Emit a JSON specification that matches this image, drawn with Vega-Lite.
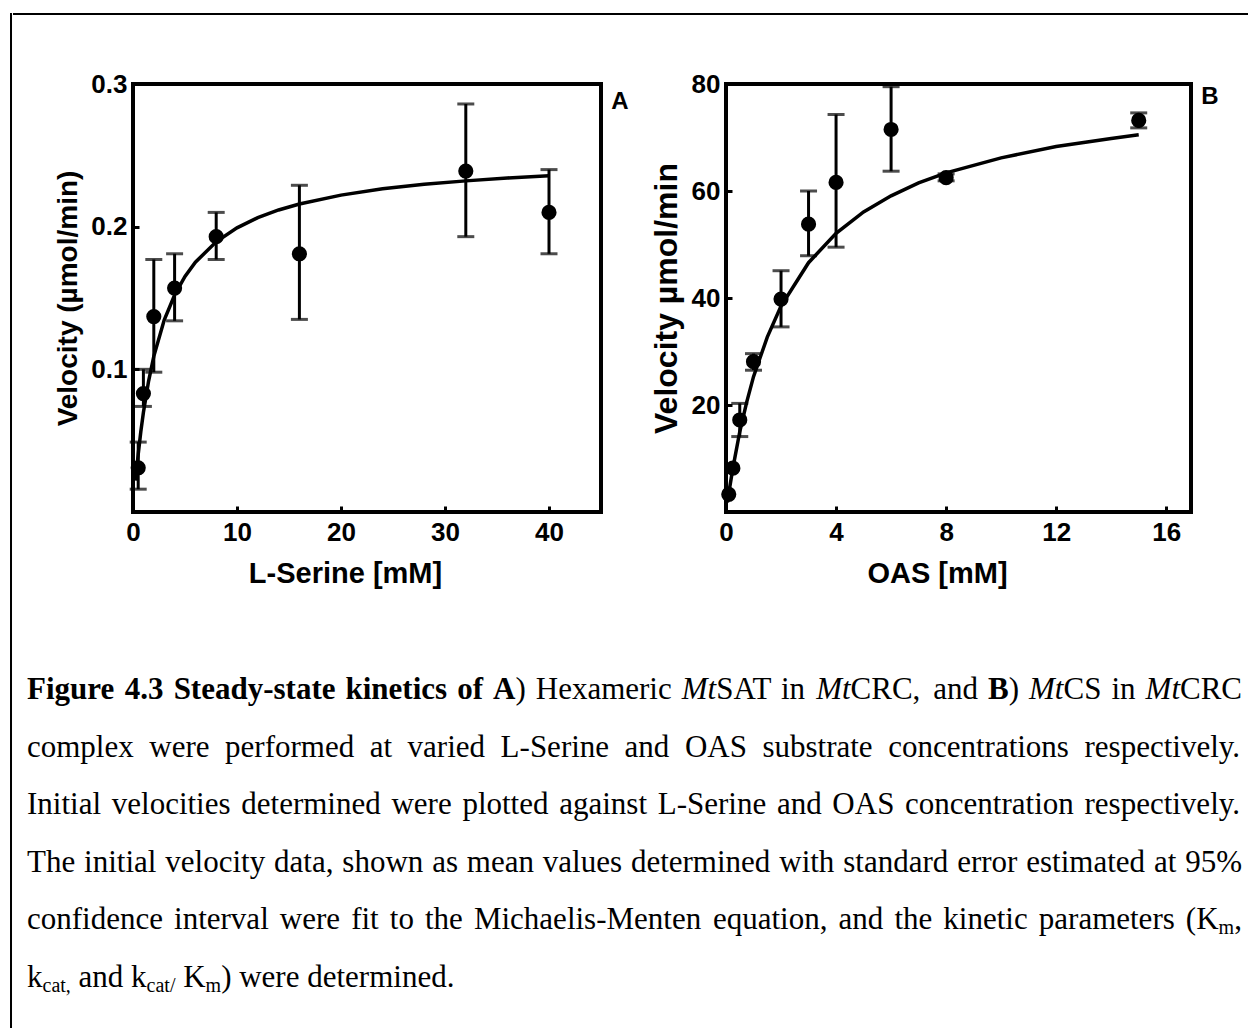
{
  "$schema": "https://vega.github.io/schema/vega-lite/v6.json",
  "padding": {"left": 10, "top": 13, "right": 0, "bottom": 0},
  "background": "white",
  "config": {
    "view": {"stroke": null},
    "font": "Liberation Sans",
    "axis": {
      "labelFont": "Liberation Sans", "titleFont": "Liberation Sans",
      "labelColor": "black", "titleColor": "black", "tickColor": "black",
      "domain": false, "grid": false,
      "labelFontWeight": "bold", "titleFontWeight": "bold",
      "labelFontSize": 26, "titleFontSize": 28, "tickWidth": 3,
      "labelFlush": false, "labelOverlap": false
    }
  },
  "datasets": {
    "serine_obs": [
      {"conc": 0.5, "v": 0.031, "lo": 0.016, "hi": 0.049},
      {"conc": 1, "v": 0.083, "lo": 0.074, "hi": 0.1},
      {"conc": 2, "v": 0.137, "lo": 0.098, "hi": 0.177},
      {"conc": 4, "v": 0.157, "lo": 0.134, "hi": 0.181},
      {"conc": 8, "v": 0.193, "lo": 0.177, "hi": 0.21},
      {"conc": 16, "v": 0.181, "lo": 0.135, "hi": 0.229},
      {"conc": 32, "v": 0.239, "lo": 0.193, "hi": 0.286},
      {"conc": 40, "v": 0.21, "lo": 0.181, "hi": 0.24}
    ],
    "serine_fit": [
      {"conc": 0.25, "v": 0.022}, {"conc": 0.5, "v": 0.0405}, {"conc": 0.75, "v": 0.0562},
      {"conc": 1, "v": 0.0697}, {"conc": 1.5, "v": 0.0918}, {"conc": 2, "v": 0.1091},
      {"conc": 3, "v": 0.1345}, {"conc": 4, "v": 0.1521}, {"conc": 5, "v": 0.1651},
      {"conc": 6, "v": 0.1751}, {"conc": 8, "v": 0.1894}, {"conc": 10, "v": 0.1992},
      {"conc": 12, "v": 0.2063}, {"conc": 14, "v": 0.2117}, {"conc": 16, "v": 0.2159},
      {"conc": 20, "v": 0.2221}, {"conc": 24, "v": 0.2265}, {"conc": 28, "v": 0.2297},
      {"conc": 32, "v": 0.2321}, {"conc": 36, "v": 0.2341}, {"conc": 40, "v": 0.2357}
    ],
    "oas_obs": [
      {"conc": 0.1, "v": 3.3, "lo": null, "hi": null},
      {"conc": 0.25, "v": 8.2, "lo": null, "hi": null},
      {"conc": 0.5, "v": 17.2, "lo": 14.1, "hi": 20.3},
      {"conc": 1, "v": 28.1, "lo": 26.5, "hi": 29.6},
      {"conc": 2, "v": 39.8, "lo": 34.6, "hi": 45.1},
      {"conc": 3, "v": 53.8, "lo": 47.9, "hi": 60.0},
      {"conc": 4, "v": 61.6, "lo": 49.5, "hi": 74.3},
      {"conc": 6, "v": 71.5, "lo": 63.7, "hi": 79.5},
      {"conc": 8, "v": 62.5, "lo": 61.9, "hi": 63.2},
      {"conc": 15, "v": 73.2, "lo": 71.8, "hi": 74.6}
    ],
    "oas_fit": [
      {"conc": 0.05, "v": 1.8}, {"conc": 0.1, "v": 3.5}, {"conc": 0.25, "v": 8.2},
      {"conc": 0.5, "v": 15.0}, {"conc": 0.75, "v": 20.5}, {"conc": 1, "v": 25.3},
      {"conc": 1.5, "v": 32.7}, {"conc": 2, "v": 38.5}, {"conc": 3, "v": 46.6},
      {"conc": 4, "v": 52.1}, {"conc": 5, "v": 56.1}, {"conc": 6, "v": 59.1},
      {"conc": 7, "v": 61.5}, {"conc": 8, "v": 63.4}, {"conc": 10, "v": 66.2},
      {"conc": 12, "v": 68.3}, {"conc": 14, "v": 69.8}, {"conc": 15, "v": 70.5}
    ],
    "caption": [
      {"line": 1, "pos": 0, "text": "Figure", "style": "bold"},
      {"line": 1, "pos": 0.08053, "text": "4.3", "style": "bold"},
      {"line": 1, "pos": 0.12068, "text": "Steady-state", "style": "bold"},
      {"line": 1, "pos": 0.26215, "text": "kinetics", "style": "bold"},
      {"line": 1, "pos": 0.35404, "text": "of", "style": "bold"},
      {"line": 1, "pos": 0.38355, "text": "A", "style": "bold"},
      {"line": 1, "pos": 0.40197, "text": ")", "style": "normal"},
      {"line": 1, "pos": 0.41872, "text": "Hexameric", "style": "normal"},
      {"line": 1, "pos": 0.53891, "text": "Mt", "style": "italic"},
      {"line": 1, "pos": 0.56726, "text": "SAT", "style": "normal"},
      {"line": 1, "pos": 0.6205, "text": "in", "style": "normal"},
      {"line": 1, "pos": 0.6495, "text": "Mt", "style": "italic"},
      {"line": 1, "pos": 0.67784, "text": "CRC,", "style": "normal"},
      {"line": 1, "pos": 0.74585, "text": "and", "style": "normal"},
      {"line": 1, "pos": 0.79095, "text": "B", "style": "bold"},
      {"line": 1, "pos": 0.80797, "text": ")", "style": "normal"},
      {"line": 1, "pos": 0.82472, "text": "Mt", "style": "italic"},
      {"line": 1, "pos": 0.85306, "text": "CS", "style": "normal"},
      {"line": 1, "pos": 0.89252, "text": "in", "style": "normal"},
      {"line": 1, "pos": 0.92063, "text": "Mt", "style": "italic"},
      {"line": 1, "pos": 0.94897, "text": "CRC", "style": "normal"},
      {"line": 2, "pos": 0, "text": "complex", "style": "normal"},
      {"line": 2, "pos": 0.10065, "text": "were", "style": "normal"},
      {"line": 2, "pos": 0.163, "text": "performed", "style": "normal"},
      {"line": 2, "pos": 0.28206, "text": "at", "style": "normal"},
      {"line": 2, "pos": 0.31326, "text": "varied", "style": "normal"},
      {"line": 2, "pos": 0.38981, "text": "L-Serine", "style": "normal"},
      {"line": 2, "pos": 0.49186, "text": "and", "style": "normal"},
      {"line": 2, "pos": 0.54148, "text": "OAS", "style": "normal"},
      {"line": 2, "pos": 0.60529, "text": "substrate", "style": "normal"},
      {"line": 2, "pos": 0.70878, "text": "concentrations", "style": "normal"},
      {"line": 2, "pos": 0.87036, "text": "respectively.", "style": "normal"},
      {"line": 3, "pos": 0, "text": "Initial", "style": "normal"},
      {"line": 3, "pos": 0.06976, "text": "velocities", "style": "normal"},
      {"line": 3, "pos": 0.17636, "text": "determined", "style": "normal"},
      {"line": 3, "pos": 0.29996, "text": "were", "style": "normal"},
      {"line": 3, "pos": 0.35834, "text": "plotted", "style": "normal"},
      {"line": 3, "pos": 0.43802, "text": "against", "style": "normal"},
      {"line": 3, "pos": 0.51911, "text": "L-Serine", "style": "normal"},
      {"line": 3, "pos": 0.61719, "text": "and", "style": "normal"},
      {"line": 3, "pos": 0.66284, "text": "OAS", "style": "normal"},
      {"line": 3, "pos": 0.72268, "text": "concentration", "style": "normal"},
      {"line": 3, "pos": 0.87035, "text": "respectively.", "style": "normal"},
      {"line": 4, "pos": 0, "text": "The", "style": "normal"},
      {"line": 4, "pos": 0.04698, "text": "initial", "style": "normal"},
      {"line": 4, "pos": 0.11383, "text": "velocity", "style": "normal"},
      {"line": 4, "pos": 0.20333, "text": "data,", "style": "normal"},
      {"line": 4, "pos": 0.25952, "text": "shown", "style": "normal"},
      {"line": 4, "pos": 0.33344, "text": "as", "style": "normal"},
      {"line": 4, "pos": 0.36199, "text": "mean", "style": "normal"},
      {"line": 4, "pos": 0.42456, "text": "values", "style": "normal"},
      {"line": 4, "pos": 0.49705, "text": "determined", "style": "normal"},
      {"line": 4, "pos": 0.61914, "text": "with", "style": "normal"},
      {"line": 4, "pos": 0.67181, "text": "standard", "style": "normal"},
      {"line": 4, "pos": 0.76556, "text": "error", "style": "normal"},
      {"line": 4, "pos": 0.82243, "text": "estimated", "style": "normal"},
      {"line": 4, "pos": 0.92752, "text": "at", "style": "normal"},
      {"line": 4, "pos": 0.95324, "text": "95%", "style": "normal"},
      {"line": 5, "pos": 0, "text": "confidence", "style": "normal"},
      {"line": 5, "pos": 0.12104, "text": "interval", "style": "normal"},
      {"line": 5, "pos": 0.20811, "text": "were", "style": "normal"},
      {"line": 5, "pos": 0.26679, "text": "fit", "style": "normal"},
      {"line": 5, "pos": 0.29859, "text": "to", "style": "normal"},
      {"line": 5, "pos": 0.32755, "text": "the", "style": "normal"},
      {"line": 5, "pos": 0.36784, "text": "Michaelis-Menten", "style": "normal"},
      {"line": 5, "pos": 0.56459, "text": "equation,", "style": "normal"},
      {"line": 5, "pos": 0.66795, "text": "and", "style": "normal"},
      {"line": 5, "pos": 0.7139, "text": "the", "style": "normal"},
      {"line": 5, "pos": 0.75419, "text": "kinetic", "style": "normal"},
      {"line": 5, "pos": 0.83275, "text": "parameters", "style": "normal"},
      {"line": 5, "pos": 0.95376, "text": "(K", "style": "normal"},
      {"line": 5, "pos": 0.98068, "text": "m", "style": "sub"},
      {"line": 5, "pos": 0.9936, "text": ",", "style": "normal"},
      {"line": 6, "pos": 0, "text": "k", "style": "normal"},
      {"line": 6, "pos": 0.01276, "text": "cat,", "style": "sub"},
      {"line": 6, "pos": 0.04244, "text": "and", "style": "normal"},
      {"line": 6, "pos": 0.08566, "text": "k", "style": "normal"},
      {"line": 6, "pos": 0.09842, "text": "cat/", "style": "sub"},
      {"line": 6, "pos": 0.12857, "text": "K", "style": "normal"},
      {"line": 6, "pos": 0.14699, "text": "m", "style": "sub"},
      {"line": 6, "pos": 0.15979, "text": ") were determined.", "style": "normal"}
    ]
  },
  "spacing": 0,
  "hconcat": [
    {"width": 0.01, "height": 1013, "view": {"stroke": "black", "strokeWidth": 2}, "data": {"values": []}, "mark": {"type": "point"}},
    {
      "spacing": 53,
      "vconcat": [
        {"width": 1234, "height": 0.01, "view": {"stroke": "black", "strokeWidth": 2}, "data": {"values": []}, "mark": {"type": "point"}},
        {
          "spacing": 52,
          "vconcat": [
            {
              "spacing": 25,
              "hconcat": [
                {"width": 13, "height": 10, "data": {"values": []}, "mark": {"type": "point"}},
                {
                  "spacing": 17,
                  "hconcat": [
                    {
                      "width": 468, "height": 428,
                      "view": {"stroke": "black", "strokeWidth": 4},
                      "title": {"text": "A", "orient": "right", "anchor": "start", "angle": 0, "align": "left", "baseline": "top", "offset": -7, "dy": 19, "fontSize": 24, "font": "Liberation Sans", "fontWeight": "bold", "color": "black"},
                      "layer": [
                        {
                          "data": {"name": "serine_fit"},
                          "mark": {"type": "line", "color": "black", "strokeWidth": 3.5},
                          "encoding": {
                            "x": {"field": "conc", "type": "quantitative", "scale": {"domain": [0, 45], "nice": false},
                                  "axis": {"values": [0, 10, 20, 30, 40], "title": "L-Serine [mM]", "titleFontSize": 29, "tickSize": -6, "labelPadding": 13, "titlePadding": 14, "titleX": 212}},
                            "y": {"field": "v", "type": "quantitative", "scale": {"domain": [0, 0.3], "nice": false},
                                  "axis": {"values": [0.1, 0.2, 0.3], "format": ".1f", "title": "Velocity (µmol/min)", "tickSize": -6, "labelPadding": 12, "titlePadding": 8}}
                          }
                        },
                        {
                          "data": {"name": "serine_obs"},
                          "mark": {"type": "errorbar", "color": "black", "thickness": 3, "ticks": {"size": 17, "thickness": 3, "color": "black"}},
                          "encoding": {
                            "x": {"field": "conc", "type": "quantitative"},
                            "y": {"field": "lo", "type": "quantitative", "title": "Velocity (µmol/min)"},
                            "y2": {"field": "hi"}
                          }
                        },
                        {
                          "data": {"name": "serine_obs"},
                          "mark": {"type": "point", "filled": true, "size": 230, "color": "black", "opacity": 1},
                          "encoding": {
                            "x": {"field": "conc", "type": "quantitative"},
                            "y": {"field": "v", "type": "quantitative", "title": "Velocity (µmol/min)"}
                          }
                        }
                      ]
                    },
                    {
                      "width": 465, "height": 428,
                      "view": {"stroke": "black", "strokeWidth": 4},
                      "title": {"text": "B", "orient": "right", "anchor": "start", "angle": 0, "align": "left", "baseline": "top", "offset": -7, "dy": 14, "fontSize": 24, "font": "Liberation Sans", "fontWeight": "bold", "color": "black"},
                      "layer": [
                        {
                          "data": {"name": "oas_fit"},
                          "mark": {"type": "line", "color": "black", "strokeWidth": 3.5},
                          "encoding": {
                            "x": {"field": "conc", "type": "quantitative", "scale": {"domain": [0, 16.9], "nice": false},
                                  "axis": {"values": [0, 4, 8, 12, 16], "title": "OAS [mM]", "titleFontSize": 29, "tickSize": -6, "labelPadding": 13, "titlePadding": 14, "titleX": 211}},
                            "y": {"field": "v", "type": "quantitative", "scale": {"domain": [0, 80], "nice": false},
                                  "axis": {"values": [20, 40, 60, 80], "title": "Velocity µmol/min", "titleFontSize": 32, "tickSize": -6, "labelPadding": 12, "titlePadding": 8}}
                          }
                        },
                        {
                          "data": {"name": "oas_obs"},
                          "mark": {"type": "errorbar", "color": "black", "thickness": 3, "ticks": {"size": 17, "thickness": 3, "color": "black"}},
                          "encoding": {
                            "x": {"field": "conc", "type": "quantitative"},
                            "y": {"field": "lo", "type": "quantitative", "title": "Velocity µmol/min"},
                            "y2": {"field": "hi"}
                          }
                        },
                        {
                          "data": {"name": "oas_obs"},
                          "mark": {"type": "point", "filled": true, "size": 230, "color": "black", "opacity": 1},
                          "encoding": {
                            "x": {"field": "conc", "type": "quantitative"},
                            "y": {"field": "v", "type": "quantitative", "title": "Velocity µmol/min"}
                          }
                        }
                      ]
                    }
                  ]
                }
              ]
            },
            {
              "width": 1236,
              "height": 385,
              "data": {"name": "caption"},
              "encoding": {
                "x": {"field": "pos", "type": "quantitative",
                      "scale": {"domain": [-0.0107, 1.00658], "nice": false, "zero": false}, "axis": null},
                "y": {"field": "line", "type": "quantitative",
                      "scale": {"domain": [0.0104, 6.6945], "reverse": true, "nice": false, "zero": false}, "axis": null},
                "text": {"field": "text"}
              },
              "layer": [
                {"transform": [{"filter": "datum.style == 'normal'"}],
                 "mark": {"type": "text", "align": "left", "baseline": "alphabetic", "font": "Liberation Serif", "fontSize": 31, "color": "black"}},
                {"transform": [{"filter": "datum.style == 'bold'"}],
                 "mark": {"type": "text", "align": "left", "baseline": "alphabetic", "font": "Liberation Serif", "fontSize": 31, "fontWeight": "bold", "color": "black"}},
                {"transform": [{"filter": "datum.style == 'italic'"}],
                 "mark": {"type": "text", "align": "left", "baseline": "alphabetic", "font": "Liberation Serif", "fontSize": 31, "fontStyle": "italic", "color": "black"}},
                {"transform": [{"filter": "datum.style == 'sub'"}],
                 "mark": {"type": "text", "align": "left", "baseline": "alphabetic", "font": "Liberation Serif", "fontSize": 20, "dy": 5, "color": "black"}}
              ]
            }
          ]
        }
      ]
    }
  ]
}
